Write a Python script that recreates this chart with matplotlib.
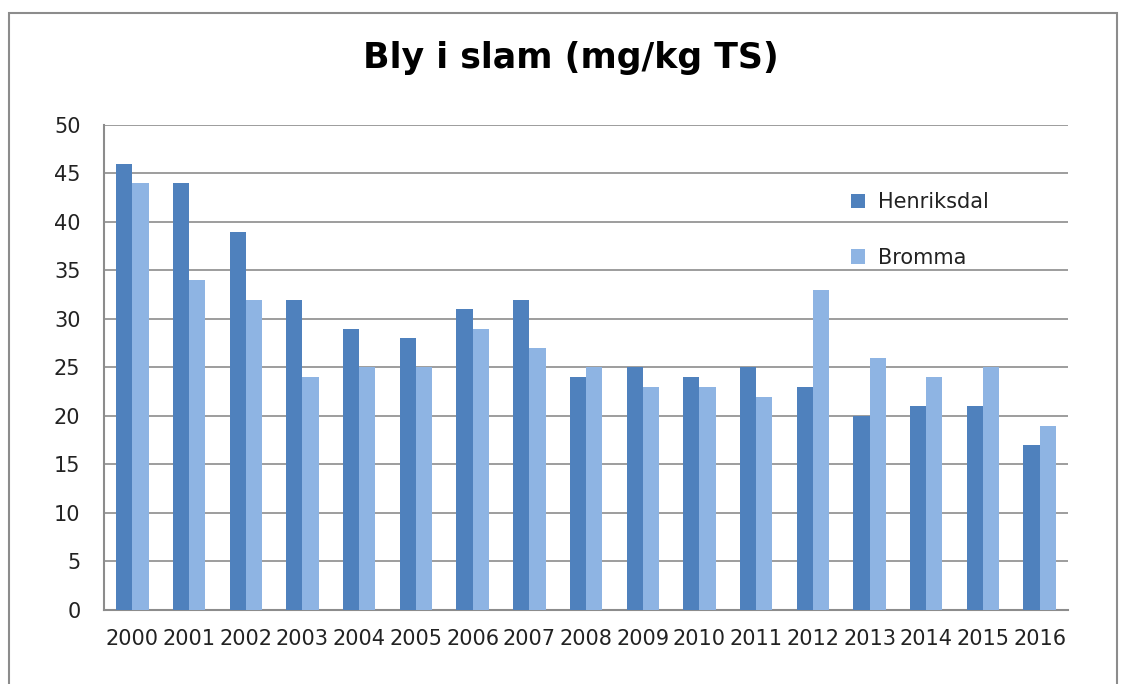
import matplotlib
matplotlib.use("Agg")
import matplotlib.pyplot as plt
from matplotlib.patches import Rectangle
import numpy as np

years = [str(y) for y in range(2000, 2017)]
henriksdal = [46, 44, 39, 32, 29, 28, 31, 32, 24, 25, 24, 25, 23, 20, 21, 21, 17]
bromma = [44, 34, 32, 24, 25, 25, 29, 27, 25, 23, 23, 22, 33, 26, 24, 25, 19]

dark = "#4F81BD"
light = "#8EB4E3"
grey = "#8c8c8c"

plt.rcParams['font.family'] = ['DejaVu Sans']

fig = plt.figure(figsize=(11.21, 6.84), dpi=100)
ax = fig.add_axes([0.0928, 0.1082, 0.8599, 0.7091])

x = np.arange(len(years))
w = 1 / 3.5
ax.bar(x - w / 2, henriksdal, w, color=dark, label="Henriksdal", zorder=3)
ax.bar(x + w / 2, bromma, w, color=light, label="Bromma", zorder=3)

ax.set_xlim(-0.5, len(years) - 0.5)
ax.set_ylim(0, 50)
ax.set_yticks(range(0, 51, 5))
ax.set_xticks(x)
ax.set_xticklabels(years, fontsize=15)
ax.tick_params(axis='y', labelsize=15, length=0, pad=17, labelcolor='#222222')
ax.tick_params(axis='x', length=0, pad=14, labelcolor='#222222')
ax.grid(axis='y', color=grey, linewidth=1.2, zorder=0)
for s in ['top', 'right']:
    ax.spines[s].set_visible(False)
for s in ['left', 'bottom']:
    ax.spines[s].set_color(grey)
    ax.spines[s].set_linewidth(1.5)

fig.text(0.509, 0.915, "Bly i slam (mg/kg TS)", ha='center', va='center',
         fontsize=25, fontweight='bold')

leg = ax.legend(loc='upper left', bbox_to_anchor=(0.755, 0.9), frameon=False,
                fontsize=15, handlelength=0.7, handleheight=0.7, labelspacing=1.7,
                handletextpad=0.6)
for t in leg.get_texts():
    t.set_color('#222222')

fig.add_artist(Rectangle((9 / 1121, -0.05), (1117 - 9) / 1121, 1.05 - 13 / 684,
                         transform=fig.transFigure, fill=False,
                         edgecolor=grey, linewidth=1.5))

fig.savefig("out.png", dpi=100)
